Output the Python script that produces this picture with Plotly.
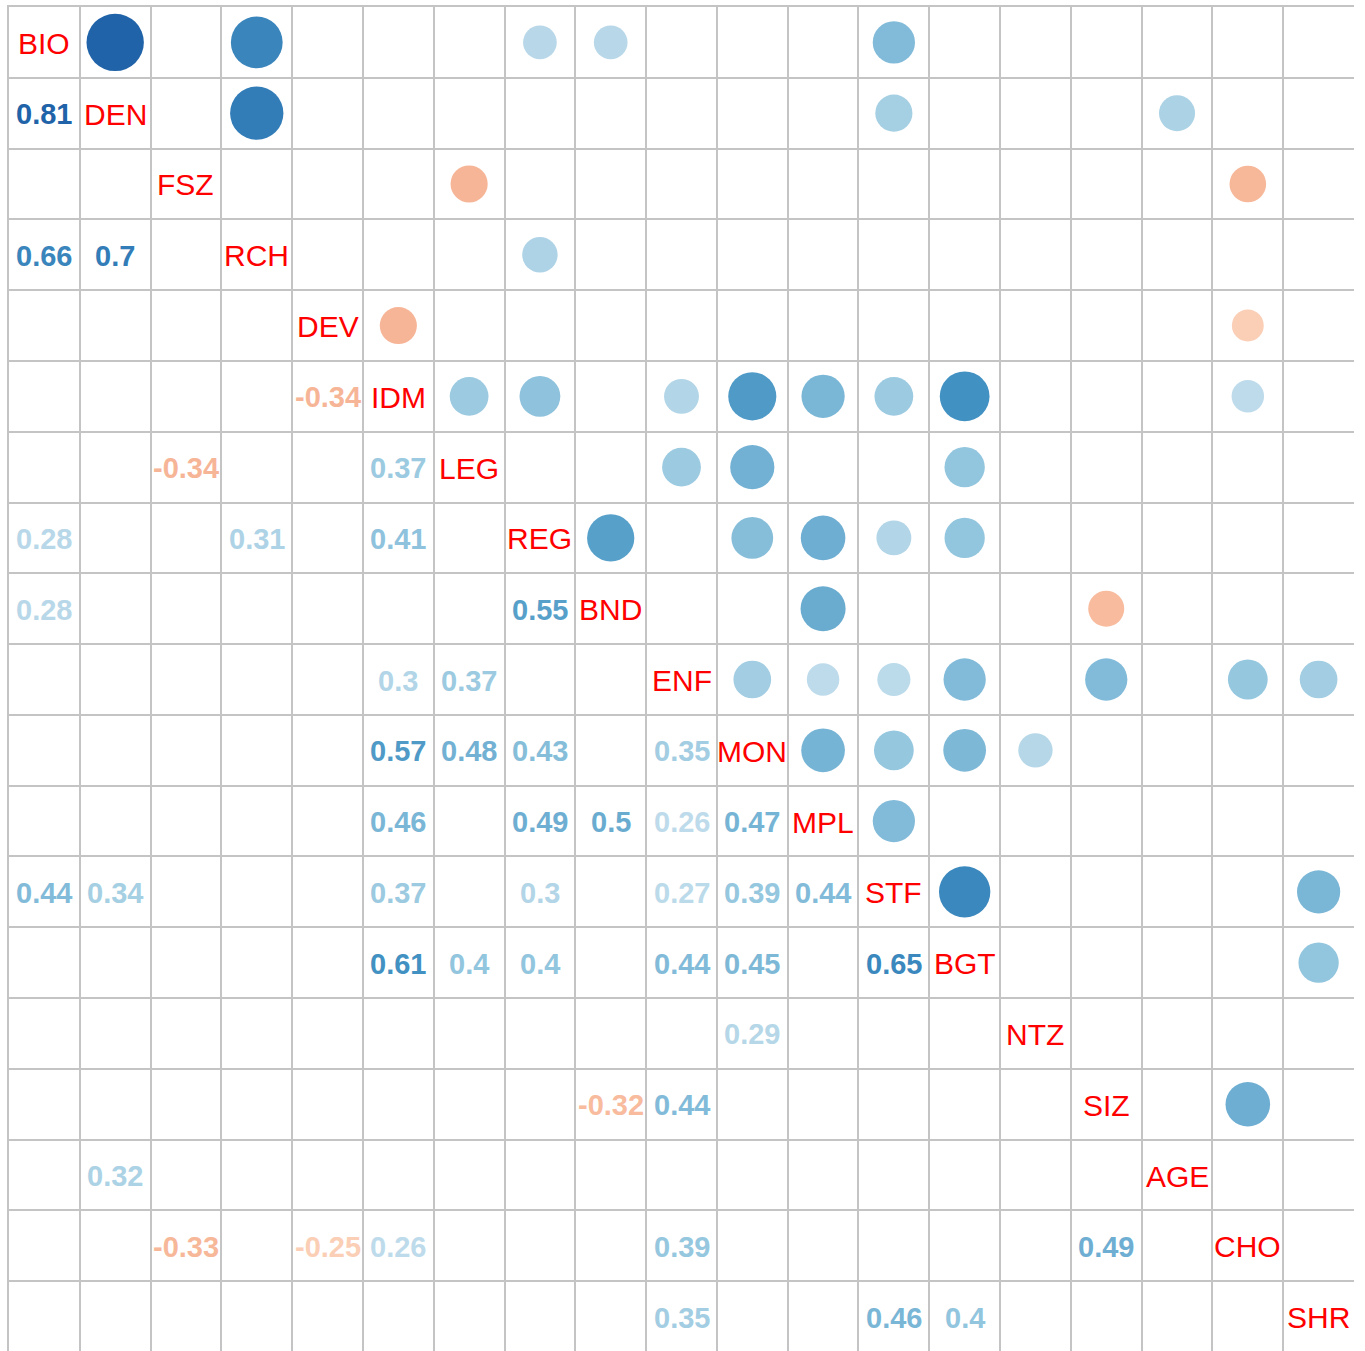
import numpy as np
import plotly.graph_objects as go

variables = ["BIO", "DEN", "FSZ", "RCH", "DEV", "IDM", "LEG", "REG", "BND", "ENF",
             "MON", "MPL", "STF", "BGT", "NTZ", "SIZ", "AGE", "CHO", "SHR"]

# significant correlations (lower triangle: row variable, column variable, r)
pair_row = ["DEN", "RCH", "RCH", "IDM", "LEG", "LEG", "REG", "REG", "REG",
            "BND", "BND", "ENF", "ENF", "MON", "MON", "MON", "MON",
            "MPL", "MPL", "MPL", "MPL", "MPL",
            "STF", "STF", "STF", "STF", "STF", "STF", "STF",
            "BGT", "BGT", "BGT", "BGT", "BGT", "BGT",
            "NTZ", "SIZ", "SIZ", "AGE",
            "CHO", "CHO", "CHO", "CHO", "CHO",
            "SHR", "SHR", "SHR"]
pair_col = ["BIO", "BIO", "DEN", "DEV", "FSZ", "IDM", "BIO", "RCH", "IDM",
            "BIO", "REG", "IDM", "LEG", "IDM", "LEG", "REG", "ENF",
            "IDM", "REG", "BND", "ENF", "MON",
            "BIO", "DEN", "IDM", "REG", "ENF", "MON", "MPL",
            "IDM", "LEG", "REG", "ENF", "MON", "STF",
            "MON", "BND", "ENF", "DEN",
            "FSZ", "DEV", "IDM", "ENF", "SIZ",
            "ENF", "STF", "BGT"]
pair_r = [0.81, 0.66, 0.70, -0.34, -0.34, 0.37, 0.28, 0.31, 0.41,
          0.28, 0.55, 0.30, 0.37, 0.57, 0.48, 0.43, 0.35,
          0.46, 0.49, 0.50, 0.26, 0.47,
          0.44, 0.34, 0.37, 0.30, 0.27, 0.39, 0.44,
          0.61, 0.40, 0.40, 0.44, 0.45, 0.65,
          0.29, -0.32, 0.44, 0.32,
          -0.33, -0.25, 0.26, 0.39, 0.49,
          0.35, 0.46, 0.40]

# corrplot RdBu palette
palette = ["#67001F", "#B2182B", "#D6604D", "#F4A582", "#FDDBC7", "#FFFFFF",
           "#D1E5F0", "#92C5DE", "#4393C3", "#2166AC", "#053061"]


def hex2rgb(h):
    return np.array([int(h[i:i + 2], 16) for i in (1, 3, 5)], dtype=float)


def corr_color(r):
    pos = (r + 1) / 2 * (len(palette) - 1)
    i = int(np.floor(pos))
    i = min(i, len(palette) - 2)
    t = pos - i
    c = hex2rgb(palette[i]) * (1 - t) + hex2rgb(palette[i + 1]) * t
    return "rgb(%d,%d,%d)" % tuple(np.round(c))


idx = {v: k + 1 for k, v in enumerate(variables)}
n = len(variables)

cell_px = (1354 - 9) / n
W, H = 1365, 1351
ml, mr, mt, mb = 9, W - 1354, 7, 0
plot_h = H - mt - mb
GRID = "#C4C4C4"

fig = go.Figure()

# upper triangle: circles
ux = [idx[r] for r in pair_row]
uy = [idx[c] for c in pair_col]
fig.add_trace(go.Scatter(
    x=ux, y=uy, mode="markers",
    marker=dict(size=[0.9 * cell_px * np.sqrt(abs(v)) for v in pair_r],
                color=[corr_color(v) for v in pair_r], line=dict(width=0),
                opacity=1),
    hoverinfo="skip", showlegend=False))

annotations = []
# lower triangle: numbers
for rn, cn, v in zip(pair_row, pair_col, pair_r):
    annotations.append(dict(
        x=idx[cn], y=idx[rn], xref="x", yref="y", text="<b>%g</b>" % v,
        showarrow=False, yshift=-1,
        font=dict(family="Liberation Sans, Arial", size=29, color=corr_color(v))))
# diagonal labels
for k, name in enumerate(variables):
    annotations.append(dict(
        x=k + 1, y=k + 1, xref="x", yref="y", text=name, showarrow=False,
        yshift=-1,
        font=dict(family="Liberation Sans, Arial", size=30, color="#FF0000")))

grid_vals = [k + 0.5 for k in range(n + 1)]
fig.update_xaxes(range=[0.5, n + 0.5], tickvals=grid_vals, showticklabels=False,
                 showgrid=True, gridcolor=GRID, gridwidth=2, zeroline=False,
                 showline=True, linecolor=GRID, linewidth=2, side="top", ticks="")
fig.update_yaxes(range=[0.5 + plot_h / cell_px, 0.5], tickvals=grid_vals,
                 showticklabels=False, showgrid=True, gridcolor=GRID,
                 gridwidth=2, zeroline=False, showline=True, linecolor=GRID,
                 linewidth=2, ticks="")
fig.update_layout(width=W, height=H, margin=dict(l=ml, r=mr, t=mt, b=mb),
                  plot_bgcolor="white", paper_bgcolor="white",
                  annotations=annotations)

fig.write_html("out.html", config={"displayModeBar": False},
               post_script="document.body.style.margin='0';"
                           "document.body.style.overflow='hidden';")
